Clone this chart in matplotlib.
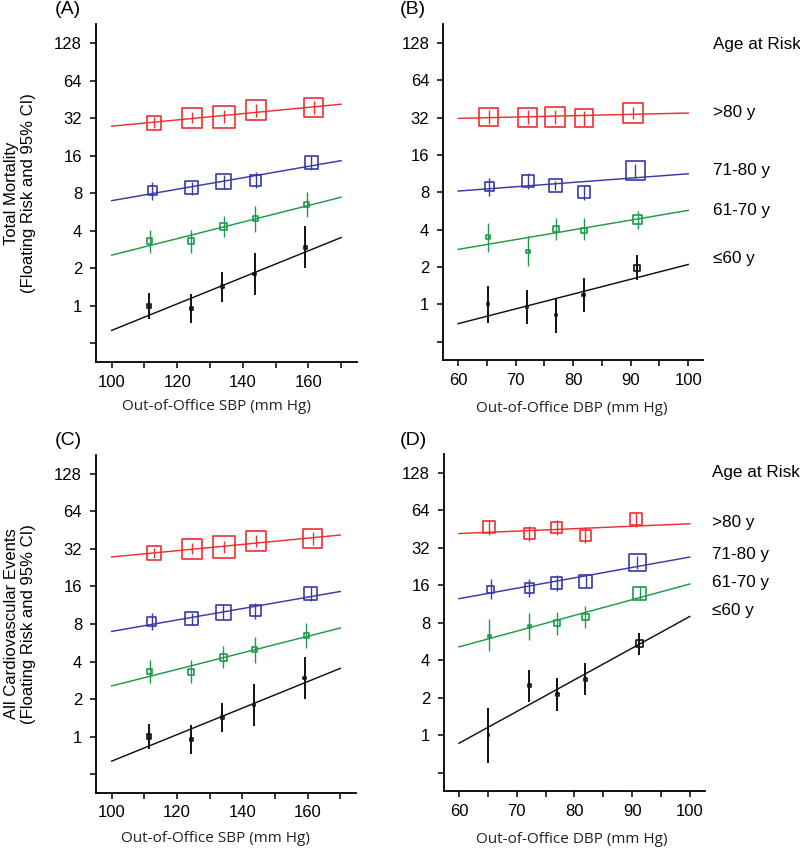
import matplotlib
matplotlib.use("Agg")
import matplotlib.pyplot as plt

plt.rcParams["font.family"] = ["Liberation Sans", "DejaVu Sans"]

RED = "#ee3030"
BLUE = "#3a3aa6"
GREEN = "#1f9a4a"
BLACK = "#111111"

# SBP panels (A and C show the same estimates)
sbp_fit_x = [100, 170]
sbp_k_x = [111.4, 124.3, 133.8, 143.6, 159.1]
sbp_k_y = [1.0, 0.95, 1.42, 1.80, 2.95]
sbp_k_lo = [0.79, 0.73, 1.08, 1.22, 2.02]
sbp_k_hi = [1.27, 1.24, 1.86, 2.64, 4.34]
sbp_k_sz = [4.3, 3, 3, 2.5, 2.5]
sbp_k_fit = [0.636, 3.53]

sbp_g_x = [111.6, 124.3, 134.2, 143.8, 159.6]
sbp_g_y = [3.32, 3.32, 4.31, 5.03, 6.52]
sbp_g_lo = [2.67, 2.67, 3.55, 3.92, 5.16]
sbp_g_hi = [4.08, 4.08, 5.29, 6.35, 8.19]
sbp_g_sz = [5.3, 5.7, 6.7, 5, 5]
sbp_g_fit = [2.55, 7.43]

sbp_b_x = [112.3, 124.5, 134.2, 143.9, 160.9]
sbp_b_y = [8.4, 8.83, 9.9, 10.2, 14.1]
sbp_b_lo = [7.11, 7.80, 8.72, 8.78, 12.26]
sbp_b_hi = [9.81, 9.87, 11.3, 11.8, 15.9]
sbp_b_sz = [9, 13, 15, 11, 13]
sbp_b_fit = [6.98, 14.6]

sbp_r_x = [112.9, 124.6, 134.4, 144.1, 161.6]
sbp_r_y = [29.5, 31.9, 32.9, 37.1, 38.8]
sbp_r_lo = [26.9, 29.3, 29.5, 33.0, 34.3]
sbp_r_hi = [32.8, 36.0, 37.1, 41.5, 43.6]
sbp_r_sz = [14, 20, 22, 20, 19]
sbp_r_fit = [27.6, 41.4]

# panel B, DBP total mortality
dbp_fit_x = [60, 100]
b_k_x = [65.2, 72.0, 77.0, 81.8, 91.1]
b_k_y = [1.0, 0.96, 0.82, 1.19, 1.97]
b_k_lo = [0.71, 0.70, 0.59, 0.87, 1.56]
b_k_hi = [1.40, 1.31, 1.13, 1.64, 2.5]
b_k_sz = [2, 2, 2.5, 2.5, 6]
b_k_fit = [0.70, 2.10]

b_g_x = [65.2, 72.1, 77.0, 81.9, 91.2]
b_g_y = [3.47, 2.66, 4.02, 3.95, 4.87]
b_g_lo = [2.66, 2.03, 3.28, 3.32, 4.06]
b_g_hi = [4.55, 3.56, 4.97, 4.94, 5.7]
b_g_sz = [4, 3.5, 6, 5.7, 9]
b_g_fit = [2.78, 5.73]

b_b_x = [65.4, 72.2, 76.9, 81.9, 90.8]
b_b_y = [8.9, 9.87, 9.1, 8.05, 12.0]
b_b_lo = [7.47, 8.46, 8.4, 6.9, 10.5]
b_b_hi = [10.5, 11.4, 9.9, 9.17, 13.6]
b_b_sz = [8.7, 12, 13, 11.7, 18.7]
b_b_fit = [8.2, 11.3]

b_r_x = [65.3, 72.1, 76.9, 81.9, 90.4]
b_r_y = [32.4, 32.4, 32.6, 31.8, 34.9]
b_r_lo = [28.3, 28.4, 28.6, 27.6, 31.0]
b_r_hi = [37.0, 37.0, 37.2, 36.5, 39.3]
b_r_sz = [18.7, 19, 20, 18.7, 20]
b_r_fit = [31.6, 34.9]

# panel D, DBP cardiovascular events
d_k_x = [65.1, 72.2, 77.0, 81.9, 91.2]
d_k_y = [1.0, 2.5, 2.11, 2.81, 5.41]
d_k_lo = [0.60, 1.86, 1.57, 2.11, 4.44]
d_k_hi = [1.64, 3.34, 2.88, 3.78, 6.64]
d_k_sz = [1.5, 3, 3, 3.5, 7]
d_k_fit = [0.86, 8.99]

d_g_x = [65.2, 72.2, 77.0, 81.9, 91.3]
d_g_y = [6.2, 7.43, 8.0, 8.95, 13.8]
d_g_lo = [4.7, 5.8, 6.4, 7.2, 12.1]
d_g_hi = [8.5, 9.6, 9.8, 11.0, 15.8]
d_g_sz = [3, 3, 5.7, 6.3, 12.7]
d_g_fit = [5.12, 16.4]

d_b_x = [65.5, 72.2, 76.9, 82.0, 90.9]
d_b_y = [14.9, 15.2, 16.7, 17.3, 24.4]
d_b_lo = [12.5, 12.9, 14.4, 15.3, 21.8]
d_b_hi = [18.1, 18.1, 19.3, 19.6, 27.4]
d_b_sz = [7.3, 9.7, 11.3, 13, 17.3]
d_b_fit = [12.5, 27.0]

d_r_x = [65.2, 72.2, 76.9, 81.9, 90.6]
d_r_y = [46.8, 41.7, 46.5, 40.4, 54.3]
d_r_lo = [40.5, 36.4, 40.7, 35.1, 47.3]
d_r_hi = [53.5, 47.8, 53.5, 46.7, 61.3]
d_r_sz = [11.7, 10.7, 11.3, 11, 12]
d_r_fit = [41.7, 50.0]

y_ticks = [0.5, 1, 2, 4, 8, 16, 32, 64, 128]
y_labels = ["", "1", "2", "4", "8", "16", "32", "64", "128"]
sbp_ticks = [100, 110, 120, 130, 140, 150, 160, 170]
sbp_labels = ["100", "", "120", "", "140", "", "160", ""]
dbp_ticks = [60, 65, 70, 75, 80, 85, 90, 95, 100]
dbp_labels = ["60", "", "70", "", "80", "", "90", "", "100"]
age_groups = [">80 y", "71-80 y", "61-70 y", "\u226460 y"]

px = 100 / 72.0


def draw_group(ax, fit_x, fit, x, y, lo, hi, sz, color, elw):
    ax.plot(fit_x, fit, color=color, lw=1.05, zorder=2)
    ax.vlines(x, lo, hi, color=color, lw=elw, zorder=3)
    ax.scatter(x, y, marker="s", s=[(v / px) ** 2 for v in sz],
               facecolors="none", edgecolors=color, linewidths=1.2, zorder=4)


def style_axis(ax, xlim, xticks, xlabels, xlabel, xlab_pos, ylabel=None):
    ax.set_yscale("log", base=2)
    ax.set_ylim(0.354, 183)
    ax.set_yticks(y_ticks)
    ax.set_yticklabels(y_labels)
    ax.minorticks_off()
    ax.set_xlim(xlim)
    ax.set_xticks(xticks)
    ax.set_xticklabels(xlabels)
    for s in ["top", "right"]:
        ax.spines[s].set_visible(False)
    for s in ["left", "bottom"]:
        ax.spines[s].set_linewidth(1.3)
    ax.tick_params(direction="out", length=4.5, width=1.1, labelsize=12)
    ax.tick_params(axis="y", pad=5.5)
    ax.tick_params(axis="x", pad=4.5)
    ax.set_xlabel(xlabel, fontsize=11, family=["Open Sans", "DejaVu Sans"], color="#222222")
    ax.xaxis.set_label_coords(xlab_pos[0], xlab_pos[1])
    ax.xaxis.label.set_va("top")
    if ylabel:
        ax.set_ylabel(ylabel, fontsize=12, linespacing=1.2)
        ax.yaxis.set_label_coords(-0.23, 0.5)


fig = plt.figure(figsize=(8, 8.48), dpi=100)
axA = fig.add_axes([0.120, 0.573, 0.326, 0.399])
axB = fig.add_axes([0.554, 0.575, 0.325, 0.397])
axC = fig.add_axes([0.120, 0.065, 0.325, 0.399])
axD = fig.add_axes([0.555, 0.067, 0.326, 0.398])

for ax in [axA, axC]:
    draw_group(ax, sbp_fit_x, sbp_k_fit, sbp_k_x, sbp_k_y, sbp_k_lo, sbp_k_hi, sbp_k_sz, BLACK, 1.4)
    draw_group(ax, sbp_fit_x, sbp_g_fit, sbp_g_x, sbp_g_y, sbp_g_lo, sbp_g_hi, sbp_g_sz, GREEN, 1.0)
    draw_group(ax, sbp_fit_x, sbp_b_fit, sbp_b_x, sbp_b_y, sbp_b_lo, sbp_b_hi, sbp_b_sz, BLUE, 1.0)
    draw_group(ax, sbp_fit_x, sbp_r_fit, sbp_r_x, sbp_r_y, sbp_r_lo, sbp_r_hi, sbp_r_sz, RED, 1.0)

draw_group(axB, dbp_fit_x, b_k_fit, b_k_x, b_k_y, b_k_lo, b_k_hi, b_k_sz, BLACK, 1.4)
draw_group(axB, dbp_fit_x, b_g_fit, b_g_x, b_g_y, b_g_lo, b_g_hi, b_g_sz, GREEN, 1.0)
draw_group(axB, dbp_fit_x, b_b_fit, b_b_x, b_b_y, b_b_lo, b_b_hi, b_b_sz, BLUE, 1.0)
draw_group(axB, dbp_fit_x, b_r_fit, b_r_x, b_r_y, b_r_lo, b_r_hi, b_r_sz, RED, 1.0)

draw_group(axD, dbp_fit_x, d_k_fit, d_k_x, d_k_y, d_k_lo, d_k_hi, d_k_sz, BLACK, 1.4)
draw_group(axD, dbp_fit_x, d_g_fit, d_g_x, d_g_y, d_g_lo, d_g_hi, d_g_sz, GREEN, 1.0)
draw_group(axD, dbp_fit_x, d_b_fit, d_b_x, d_b_y, d_b_lo, d_b_hi, d_b_sz, BLUE, 1.0)
draw_group(axD, dbp_fit_x, d_r_fit, d_r_x, d_r_y, d_r_lo, d_r_hi, d_r_sz, RED, 1.0)

style_axis(axA, (95.2, 174.8), sbp_ticks, sbp_labels, "Out-of-Office SBP (mm Hg)", (0.46, -0.109),
           "Total Mortality\n(Floating Risk and 95% CI)")
style_axis(axB, (57.4, 102.6), dbp_ticks, dbp_labels, "Out-of-Office DBP (mm Hg)", (0.495, -0.122))
style_axis(axC, (95.2, 174.8), sbp_ticks, sbp_labels, "Out-of-Office SBP (mm Hg)", (0.46, -0.112),
           "All Cardiovascular Events\n(Floating Risk and 95% CI)")
style_axis(axD, (57.4, 102.6), dbp_ticks, dbp_labels, "Out-of-Office DBP (mm Hg)", (0.49, -0.122))

W, H = 800.0, 848.0
for lab, x, y in [("(A)", 55, 10), ("(B)", 400, 10), ("(C)", 55, 441), ("(D)", 400, 441)]:
    fig.text(x / W, 1 - y / H, lab, fontsize=14, ha="left", va="center")

fig.text(713 / W, 1 - 45 / H, "Age at Risk", fontsize=12.3, ha="left", va="center")
for lab, y in zip(age_groups, [112, 171, 211, 259]):
    fig.text(713 / W, 1 - y / H, lab, fontsize=12.3, ha="left", va="center")

fig.text(712 / W, 1 - 472 / H, "Age at Risk", fontsize=12.3, ha="left", va="center")
for lab, y in zip(age_groups, [522, 554, 582, 610]):
    fig.text(712 / W, 1 - y / H, lab, fontsize=12.3, ha="left", va="center")

fig.savefig("out.png", dpi=100)
print("saved out.png")
